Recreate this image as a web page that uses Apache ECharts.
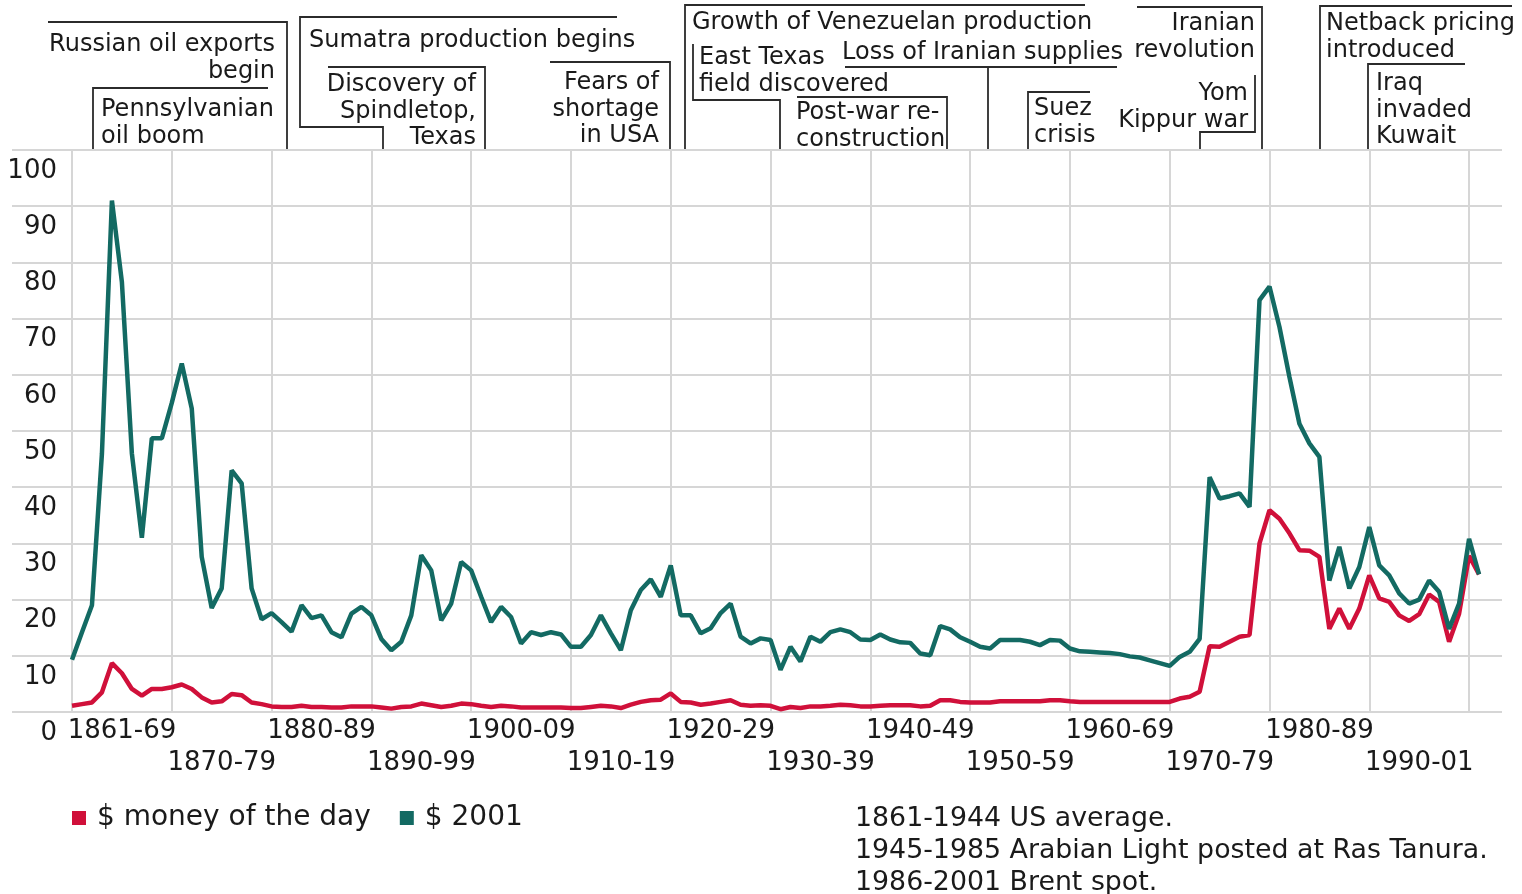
<!DOCTYPE html>
<html>
<head>
<meta charset="utf-8">
<title>Crude oil prices 1861-2001</title>
<script src="https://cdn.jsdelivr.net/npm/echarts@6/dist/echarts.min.js"></script>
<style>
  html, body { margin: 0; padding: 0; background: #fff; }
  #chart { width: 1522px; height: 894px; }
</style>
</head>
<body>
<div id="chart"></div>
<script>
// years run from firstYear, one value per year
const firstYear = 1860

const decadeLabels = [
  '1861-69', '1870-79', '1880-89', '1890-99', '1900-09', '1910-19', '1920-29',
  '1930-39', '1940-49', '1950-59', '1960-69', '1970-79', '1980-89', '1990-01'
]

const seriesNames = ['$ money of the day', '$ 2001']

// $ money of the day, 1860 .. 2001
const moneyOfDay = [
  1.1, 1.4, 1.7, 3.5, 8.7, 6.9, 4.1, 2.9, 4.1, 4.1,
  4.4, 4.9, 4.1, 2.6, 1.7, 1.9, 3.2, 3.0, 1.7, 1.4,
  1.0, 0.9, 0.9, 1.1, 0.9, 0.9, 0.8, 0.8, 1.0, 1.0,
  1.0, 0.8, 0.6, 0.9, 1.0, 1.5, 1.2, 0.9, 1.1, 1.5,
  1.4, 1.1, 0.9, 1.1, 1.0, 0.8, 0.8, 0.8, 0.8, 0.8,
  0.7, 0.7, 0.9, 1.1, 1.0, 0.7, 1.3, 1.8, 2.1, 2.2,
  3.3, 1.8, 1.7, 1.3, 1.5, 1.8, 2.1, 1.3, 1.1, 1.2,
  1.1, 0.5, 0.9, 0.7, 1.0, 1.0, 1.1, 1.3, 1.2, 1.0,
  1.0, 1.1, 1.2, 1.2, 1.2, 1.0, 1.1, 2.1, 2.1, 1.8,
  1.7, 1.7, 1.7, 1.9, 1.9, 1.9, 1.9, 1.9, 2.1, 2.1,
  1.9, 1.8, 1.8, 1.8, 1.8, 1.8, 1.8, 1.8, 1.8, 1.8,
  1.8, 2.4, 2.7, 3.6, 11.7, 11.6, 12.5, 13.4, 13.7, 30.0,
  35.9, 34.4, 31.8, 28.8, 28.7, 27.6, 14.8, 18.4, 14.8, 18.4,
  24.3, 20.2, 19.6, 17.2, 16.2, 17.4, 20.9, 19.6, 12.5, 17.5,
  27.8, 24.5
]

// $ 2001, 1860 .. 2001
const dollars2001 = [
  9.3, 14.2, 19.0, 46.0, 91.0, 76.5, 46.0, 31.0, 48.7, 48.7,
  55.0, 62.0, 54.0, 27.6, 18.5, 22.0, 43.0, 40.7, 22.0, 16.5,
  17.6, 16.0, 14.3, 19.0, 16.7, 17.2, 14.2, 13.3, 17.5, 18.7,
  17.2, 13.0, 11.0, 12.5, 17.2, 27.9, 25.2, 16.3, 19.3, 26.7,
  25.2, 20.5, 16.0, 18.7, 16.9, 12.2, 14.2, 13.7, 14.2, 13.8,
  11.6, 11.6, 13.7, 17.2, 14.0, 11.0, 18.1, 21.7, 23.6, 20.5,
  26.1, 17.2, 17.2, 14.0, 14.9, 17.6, 19.3, 13.4, 12.2, 13.1,
  12.8, 7.5, 11.6, 9.0, 13.4, 12.5, 14.2, 14.7, 14.2, 12.9,
  12.8, 13.8, 12.9, 12.4, 12.3, 10.4, 10.1, 15.3, 14.7, 13.3,
  12.5, 11.6, 11.3, 12.8, 12.8, 12.8, 12.5, 11.9, 12.8, 12.7,
  11.3, 10.8, 10.7, 10.6, 10.5, 10.3, 9.9, 9.7, 9.2, 8.7,
  8.2, 9.8, 10.7, 13.0, 41.8, 38.0, 38.4, 38.9, 36.5, 73.3,
  75.7, 68.5, 59.6, 51.3, 47.8, 45.4, 23.4, 29.4, 22.0, 25.8,
  32.9, 26.1, 24.3, 21.1, 19.3, 20.0, 23.4, 21.4, 14.8, 19.3,
  30.8, 24.5
]

const sourceNotes = [
  '1861-1944 US average.',
  '1945-1985 Arabian Light posted at Ras Tanura.',
  '1986-2001 Brent spot.'
]

const FONT = '"DejaVu Sans", Verdana, sans-serif'
const RED = '#d0103a'
const TEAL = '#136a63'
const GRID = '#d6d6d6'
const INK = '#1a1a1a'
const NOTE_LINE = '#2b2b2b'

// event call-outs above the plot: text, anchor, bracket line
const events = [
  { text: 'Russian oil exports\nbegin', x: 275, y: 42, align: 'right',
    line: [[48, 22], [287, 22], [287, 150]] },
  { text: 'Pennsylvanian\noil boom', x: 101, y: 107, align: 'left',
    line: [[268, 88], [93, 88], [93, 150]] },
  { text: 'Sumatra production begins', x: 309, y: 38, align: 'left',
    line: [[617, 17], [300, 17], [300, 127], [383, 127], [383, 150]] },
  { text: 'Discovery of\nSpindletop,\nTexas', x: 476, y: 82, align: 'right',
    line: [[328, 67], [485, 67], [485, 150]] },
  { text: 'Fears of\nshortage\nin USA', x: 659, y: 80, align: 'right',
    line: [[550, 62], [670, 62], [670, 150]] },
  { text: 'Growth of Venezuelan production', x: 692, y: 20, align: 'left',
    line: [[1085, 5], [685, 5], [685, 150]] },
  { text: 'East Texas\nfield discovered', x: 699, y: 55, align: 'left',
    line: [[693, 44], [693, 100], [780, 100], [780, 150]] },
  { text: 'Loss of Iranian supplies', x: 842, y: 50, align: 'left',
    line: [[845, 67], [1117, 67]] },
  { text: '', x: 0, y: 0, align: 'left',
    line: [[988, 67], [988, 150]] },
  { text: 'Post-war re-\nconstruction', x: 796, y: 110, align: 'left',
    line: [[797, 97], [947, 97], [947, 150]] },
  { text: 'Suez\ncrisis', x: 1034, y: 106, align: 'left',
    line: [[1090, 92], [1028, 92], [1028, 150]] },
  { text: 'Iranian\nrevolution', x: 1255, y: 21, align: 'right',
    line: [[1137, 7], [1262, 7], [1262, 150]] },
  { text: 'Yom\nKippur war', x: 1248, y: 91, align: 'right',
    line: [[1255, 75], [1255, 132], [1200, 132], [1200, 150]] },
  { text: 'Netback pricing\nintroduced', x: 1326, y: 21, align: 'left',
    line: [[1512, 6], [1320, 6], [1320, 150]] },
  { text: 'Iraq\ninvaded\nKuwait', x: 1376, y: 81, align: 'left',
    line: [[1465, 64], [1368, 64], [1368, 150]] }
]

const LINE_H = 26.5
const TEXT_SHIFT = 3

const graphics = []
events.forEach(ev => {
  graphics.push({
    type: 'polyline',
    silent: true,
    shape: { points: ev.line },
    style: { stroke: NOTE_LINE, lineWidth: 1.8, fill: null }
  })
  if (ev.text) {
    graphics.push({
      type: 'text',
      silent: true,
      style: {
        text: ev.text,
        x: ev.x,
        y: ev.y - LINE_H / 2 + TEXT_SHIFT,
        align: ev.align,
        textAlign: ev.align,
        verticalAlign: 'top',
        textVerticalAlign: 'top',
        lineHeight: LINE_H,
        font: '24px ' + FONT,
        fill: INK
      }
    })
  }
})

graphics.push({
  type: 'text',
  silent: true,
  style: {
    text: sourceNotes.join('\n'),
    x: 855,
    y: 803,
    align: 'left',
    textAlign: 'left',
    verticalAlign: 'top',
    textVerticalAlign: 'top',
    lineHeight: 32,
    font: '26.8px ' + FONT,
    fill: INK
  }
})

const toPairs = arr => arr.map((v, i) => [firstYear + i, v])

const chart = echarts.init(document.getElementById('chart'), null, { renderer: 'canvas' })

chart.setOption({
  animation: false,
  backgroundColor: '#ffffff',
  textStyle: { fontFamily: FONT },
  grid: { left: 72, right: 20, top: 150, bottom: 182, containLabel: false },
  legend: {
    left: 72,
    top: 804,
    padding: 0,
    icon: 'rect',
    itemWidth: 14,
    itemHeight: 14,
    itemGap: 29,
    data: seriesNames,
    textStyle: { fontSize: 28, color: INK, fontFamily: FONT, padding: [0, 0, 0, 6] }
  },
  xAxis: {
    type: 'value',
    min: 1860,
    max: 2003.3,
    interval: 10,
    axisLine: { show: false },
    axisTick: { show: false },
    splitLine: {
      show: true,
      showMinLine: true,
      showMaxLine: false,
      lineStyle: { color: GRID, width: 2 }
    },
    axisLabel: {
      margin: 6,
      showMaxLabel: false,
      formatter: value => {
        const k = Math.round((value - firstYear) / 10)
        if (Math.abs(value - firstYear - k * 10) > 0.01) return ''
        const lab = decadeLabels[k]
        if (!lab) return ''
        return (k % 2 === 0 ? '{a|' : '{b|') + lab + '}'
      },
      rich: {
        a: { fontSize: 26, fontFamily: FONT, color: INK, padding: [0, 0, 0, 100] },
        b: { fontSize: 26, fontFamily: FONT, color: INK, padding: [32, 0, 0, 100] }
      }
    }
  },
  yAxis: {
    type: 'value',
    min: 0,
    max: 100,
    interval: 10,
    axisLine: { show: false },
    axisTick: { show: true, inside: false, length: 60, lineStyle: { color: GRID, width: 2 } },
    splitLine: { show: true, lineStyle: { color: GRID, width: 2 } },
    axisLabel: {
      margin: 15,
      fontSize: 26,
      color: INK,
      fontFamily: FONT,
      align: 'right',
      verticalAlign: 'top',
      padding: [8, 0, 0, 0]
    }
  },
  series: [
    {
      name: seriesNames[0],
      type: 'line',
      data: toPairs(moneyOfDay),
      showSymbol: false,
      symbol: 'none',
      color: RED,
      lineStyle: { color: RED, width: 4.5 },
      z: 3
    },
    {
      name: seriesNames[1],
      type: 'line',
      data: toPairs(dollars2001),
      showSymbol: false,
      symbol: 'none',
      color: TEAL,
      lineStyle: { color: TEAL, width: 4.5 },
      z: 4
    }
  ],
  graphic: graphics
})

window.addEventListener('resize', () => chart.resize())
</script>
</body>
</html>
